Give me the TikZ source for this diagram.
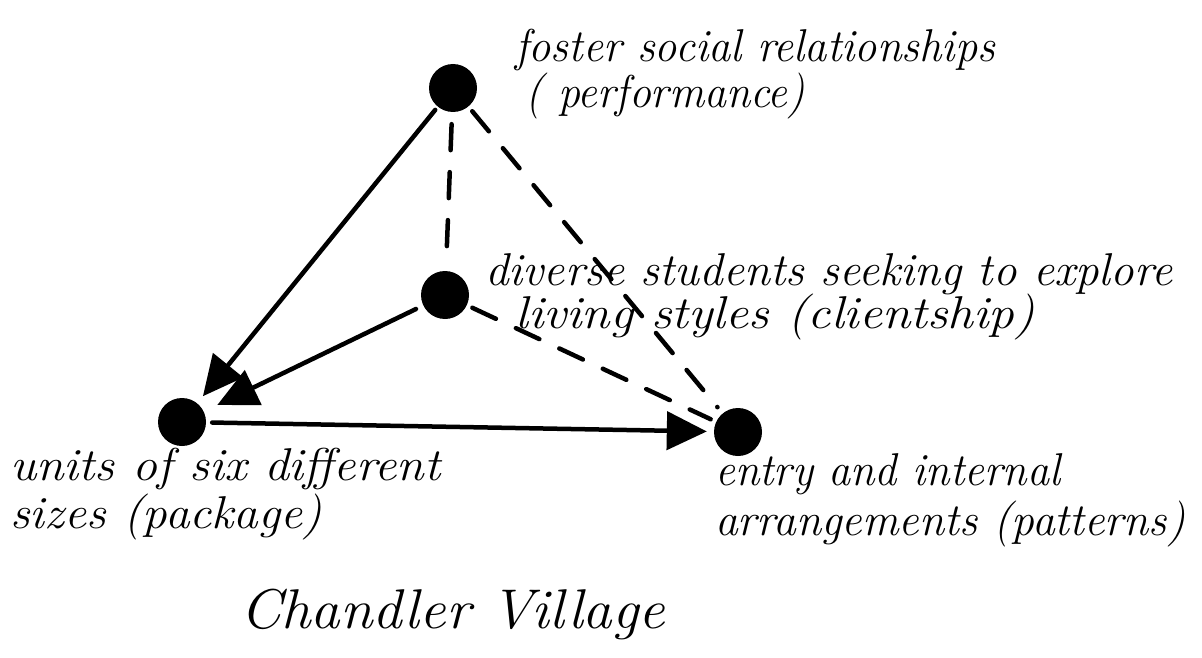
\documentclass[tikz,border=0pt]{standalone}
\usepackage{graphicx}
\usetikzlibrary{arrows.meta}
\newcommand{\fitw}[2]{\resizebox{#1}{\height}{#2}}
\begin{document}
\begin{tikzpicture}[x=1pt,y=-1pt,
  dot/.style={circle,fill=black,minimum size=48pt,inner sep=0pt},
  conn/.style={line width=4.5pt,line cap=round},
  solidarrow/.style={conn,-{Triangle[length=40pt,width=38pt]}},
  dashedline/.style={conn,dash pattern=on 26pt off 22pt},
  lbl/.style={anchor=base west,inner sep=0pt,font=\fontsize{46}{52}\selectfont\itshape},
  big/.style={anchor=base west,inner sep=0pt,font=\fontsize{56}{64}\selectfont\itshape}]
\useasboundingbox (0,0) rectangle (1202,658);
\node[dot] (top) at (453,88) {};
\node[dot] (mid) at (445,295) {};
\node[dot] (left) at (182,422) {};
\node[dot] (right) at (738,432) {};

\draw[solidarrow,shorten <=4pt,shorten >=9pt] (top) -- (left);
\draw[solidarrow,shorten <=8pt,shorten >=15pt] (mid) -- (left);
\draw[solidarrow,shorten <=6pt,shorten >=7pt] (left) -- (right);
\draw[dashedline,shorten <=12pt,shorten >=10pt] (top) -- (mid);
\draw[dashedline,shorten <=6pt,shorten >=8pt] (top) -- (right);
\draw[dashedline,shorten <=6pt,shorten >=6pt] (mid) -- (right);

\node[lbl] (t1) at (515,62) {\fitw{480pt}{foster social relationships}};
\node[lbl] (t2) at (525,108) {\fitw{280pt}{( performance)}};
\node[lbl] (m1) at (485,285) {\fitw{687pt}{diverse students seeking to explore}};
\node[lbl] (m2) at (515,328) {\fitw{520pt}{living styles (clientship)}};
\node[lbl] (l1) at (10,480) {\fitw{430pt}{units of six different}};
\node[lbl] (l2) at (10,528) {\fitw{312pt}{sizes (package)}};
\node[lbl] (r1) at (715,485) {\fitw{345pt}{entry and internal}};
\node[lbl] (r2) at (715,535) {\fitw{470pt}{arrangements (patterns)}};
\node[big] (title) at (240,628) {\fitw{425pt}{Chandler Village}};
\end{tikzpicture}
\end{document}
